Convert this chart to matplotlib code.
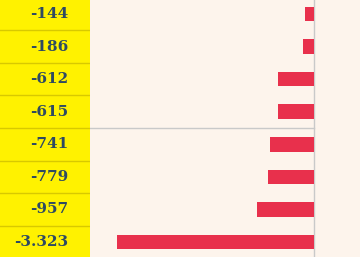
import matplotlib
matplotlib.use("Agg")
import matplotlib.pyplot as plt

values = [-144, -186, -612, -615, -741, -779, -957, -3323]
labels = ["-144", "-186", "-612", "-615", "-741", "-779", "-957", "-3.323"]

W, H = 360, 257
fig = plt.figure(figsize=(W / 100, H / 100), dpi=100)
fig.patch.set_facecolor("#fdf4ec")

ylim = (7.46, -0.43)
n = len(values)
pos = list(range(n))

# left yellow column
axl = fig.add_axes([0, 0, 90 / W, 1])
axl.set_facecolor("#fff200")
axl.set_xlim(0, 1)
axl.set_ylim(*ylim)
axl.add_patch(plt.Rectangle((0, -1), 1, 10, color="#fff200", zorder=0))
for i in range(n - 1):
    axl.axhline(i + 0.5, color="#d8c900", lw=1.0, zorder=1)
for p, lab in zip(pos, labels):
    axl.text(0.755, p, lab, ha="right", va="center", fontsize=11,
             fontweight="bold", color="#2e4a62", family="DejaVu Serif", zorder=2)
axl.axis("off")

# right bar area
axr = fig.add_axes([90 / W, 0, 270 / W, 1])
axr.set_facecolor("#fdf4ec")
axr.set_xlim(-3777, 776)
axr.set_ylim(*ylim)
axr.barh(pos, values, height=0.45, color="#e8304c", zorder=3)
axr.axvline(0, color="#c9c9c9", lw=1.0, zorder=2)
axr.plot([-3777, 0], [3.5, 3.5], color="#c9c9c9", lw=1.0, zorder=2)
for s in axr.spines.values():
    s.set_visible(False)
axr.set_xticks([])
axr.set_yticks([])

fig.savefig("out.png", dpi=100, facecolor=fig.get_facecolor())
